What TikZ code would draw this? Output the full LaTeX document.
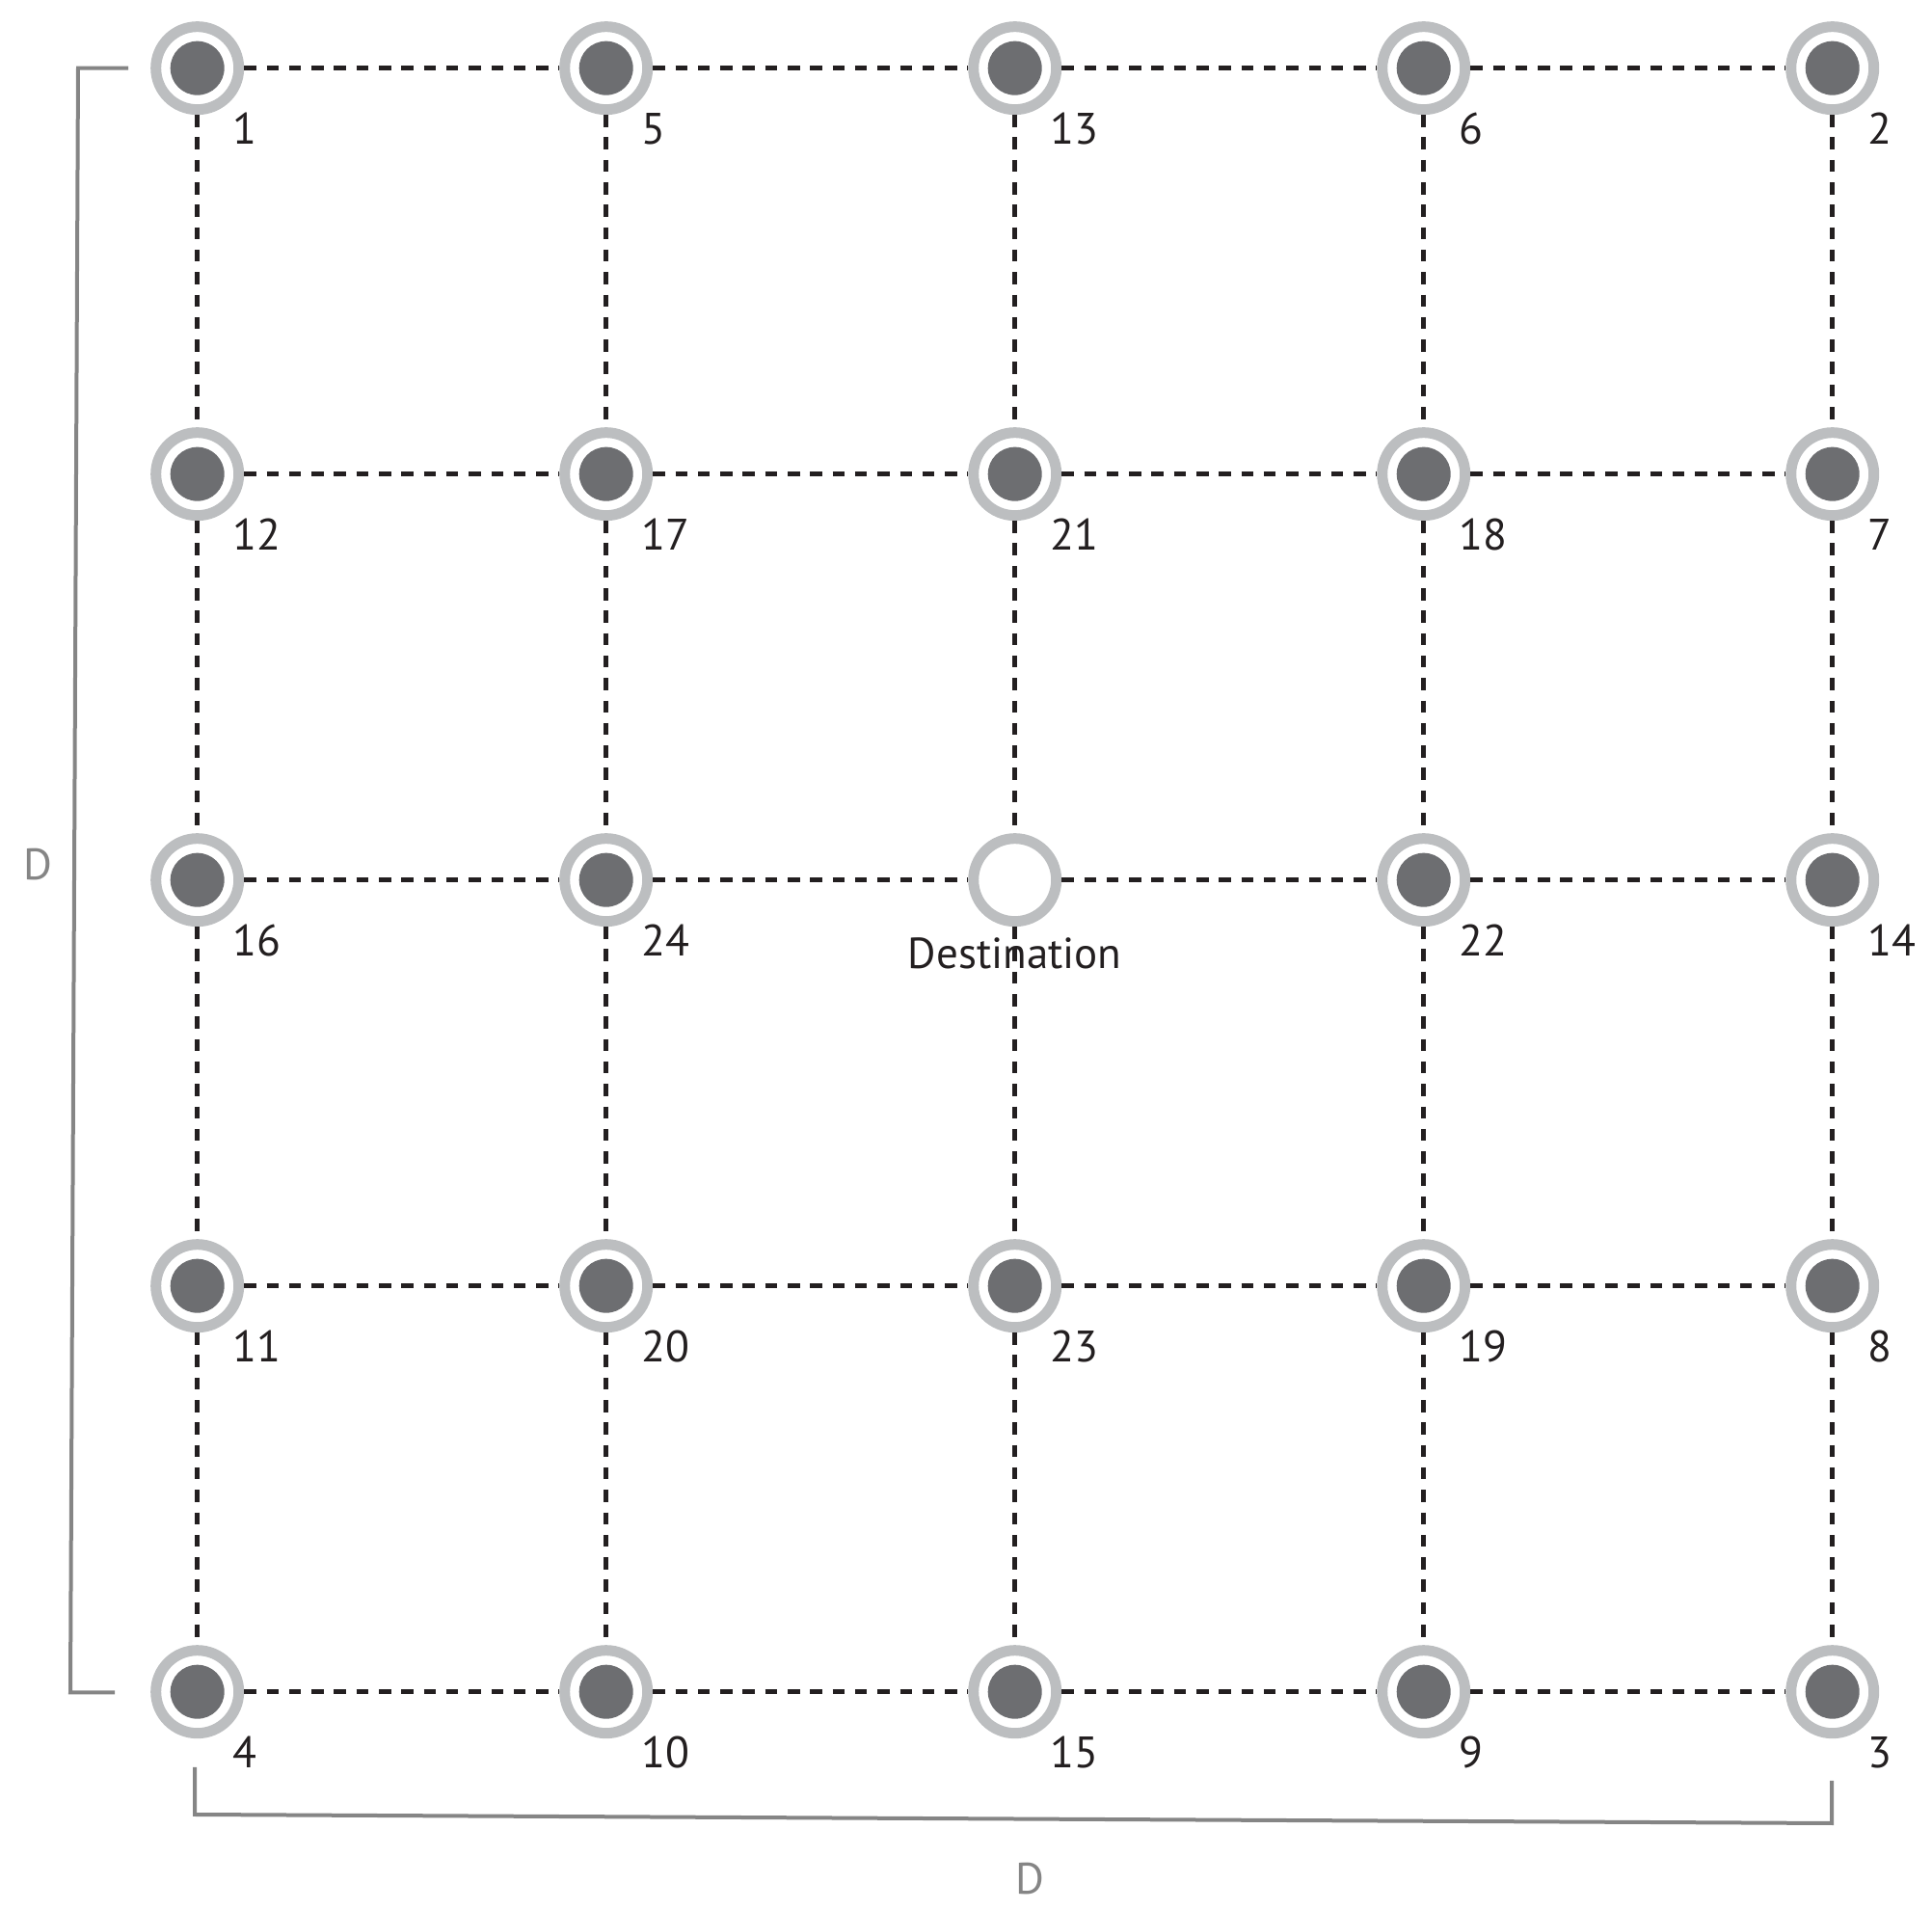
\documentclass[tikz,border=0pt]{standalone}
\usepackage{fontspec}
\setmainfont{PT Sans}
\usepackage{tikz}
\usetikzlibrary{shapes}
\definecolor{anneau}{HTML}{BCBEC0}
\definecolor{pastille}{HTML}{6D6E71}
\definecolor{cote}{HTML}{858585}
\definecolor{encre}{HTML}{231F20}
\tikzstyle{capteur}=[circle,draw=anneau,line width=0.11cm,minimum size=0.86cm,inner sep=0pt,
        path picture={\fill[pastille] (path picture bounding box.center) circle (0.28cm);}]
\tikzstyle{cible}=[circle,draw=anneau,line width=0.11cm,minimum size=0.86cm,inner sep=0pt,fill=white]
\tikzstyle{num}=[anchor=west,inner sep=0pt,xshift=0.36cm,yshift=-0.63cm,text=encre,
        font=\fontsize{13}{15}\selectfont]
\tikzstyle{nomdest}=[anchor=base,inner sep=0pt,yshift=-0.92cm,text=encre,
        font=\fontsize{12.8}{15}\selectfont]
\tikzstyle{lien}=[line width=0.05cm,encre,dash pattern=on 0.125cm off 0.108cm]
\tikzstyle{mesure}=[line width=0.04cm,cote]
\tikzstyle{lettre}=[text=cote,inner sep=0pt,font=\fontsize{13}{15}\selectfont]

\begin{document}
\begin{tikzpicture}
\useasboundingbox (0,0) rectangle (20.04,19.81);
\node[capteur] (n1) at (2.047,19.103) {};
\node[capteur] (n5) at (6.287,19.103) {};
\node[capteur] (n13) at (10.527,19.103) {};
\node[capteur] (n6) at (14.767,19.103) {};
\node[capteur] (n2) at (19.007,19.103) {};
\node[capteur] (n12) at (2.047,14.893) {};
\node[capteur] (n17) at (6.287,14.893) {};
\node[capteur] (n21) at (10.527,14.893) {};
\node[capteur] (n18) at (14.767,14.893) {};
\node[capteur] (n7) at (19.007,14.893) {};
\node[capteur] (n16) at (2.047,10.683) {};
\node[capteur] (n24) at (6.287,10.683) {};
\node[cible] (dest) at (10.527,10.683) {};
\node[capteur] (n22) at (14.767,10.683) {};
\node[capteur] (n14) at (19.007,10.683) {};
\node[capteur] (n11) at (2.047,6.473) {};
\node[capteur] (n20) at (6.287,6.473) {};
\node[capteur] (n23) at (10.527,6.473) {};
\node[capteur] (n19) at (14.767,6.473) {};
\node[capteur] (n8) at (19.007,6.473) {};
\node[capteur] (n4) at (2.047,2.263) {};
\node[capteur] (n10) at (6.287,2.263) {};
\node[capteur] (n15) at (10.527,2.263) {};
\node[capteur] (n9) at (14.767,2.263) {};
\node[capteur] (n3) at (19.007,2.263) {};
%liens
\draw[lien] (n1) -- (n5) -- (n13) -- (n6) -- (n2);
\draw[lien] (n12) -- (n17) -- (n21) -- (n18) -- (n7);
\draw[lien] (n16) -- (n24) -- (dest) -- (n22) -- (n14);
\draw[lien] (n11) -- (n20) -- (n23) -- (n19) -- (n8);
\draw[lien] (n4) -- (n10) -- (n15) -- (n9) -- (n3);
\draw[lien] (n1) -- (n12) -- (n16) -- (n11) -- (n4);
\draw[lien] (n5) -- (n17) -- (n24) -- (n20) -- (n10);
\draw[lien] (n13) -- (n21) -- (dest) -- (n23) -- (n15);
\draw[lien] (n6) -- (n18) -- (n22) -- (n19) -- (n9);
\draw[lien] (n2) -- (n7) -- (n14) -- (n8) -- (n3);
%numeros
\node[num] (t1) at (n1) {1};
\node[num] (t5) at (n5) {5};
\node[num] (t13) at (n13) {13};
\node[num] (t6) at (n6) {6};
\node[num] (t2) at (n2) {2};
\node[num] (t12) at (n12) {12};
\node[num] (t17) at (n17) {17};
\node[num] (t21) at (n21) {21};
\node[num] (t18) at (n18) {18};
\node[num] (t7) at (n7) {7};
\node[num] (t16) at (n16) {16};
\node[num] (t24) at (n24) {24};
\node[nomdest] (tdest) at (dest) {Destination};
\node[num] (t22) at (n22) {22};
\node[num] (t14) at (n14) {14};
\node[num] (t11) at (n11) {11};
\node[num] (t20) at (n20) {20};
\node[num] (t23) at (n23) {23};
\node[num] (t19) at (n19) {19};
\node[num] (t8) at (n8) {8};
\node[num] (t4) at (n4) {4};
\node[num] (t10) at (n10) {10};
\node[num] (t15) at (n15) {15};
\node[num] (t9) at (n9) {9};
\node[num] (t3) at (n3) {3};
%cotes
\coordinate (g1) at (1.33,19.103);
\coordinate (g2) at (0.81,19.103);
\coordinate (g3) at (0.73,2.255);
\coordinate (g4) at (1.19,2.255);
\coordinate (b1) at (2.02,1.48);
\coordinate (b2) at (2.02,0.99);
\coordinate (b3) at (19.00,0.90);
\coordinate (b4) at (19.00,1.34);
\draw[mesure] (g1) -- (g2) -- (g3) -- (g4);
\draw[mesure] (b1) -- (b2) -- (b3) -- (b4);
\node[lettre] (dg) at (0.39,10.84) {D};
\node[lettre] (db) at (10.684,0.32) {D};
\end{tikzpicture}
\end{document}
